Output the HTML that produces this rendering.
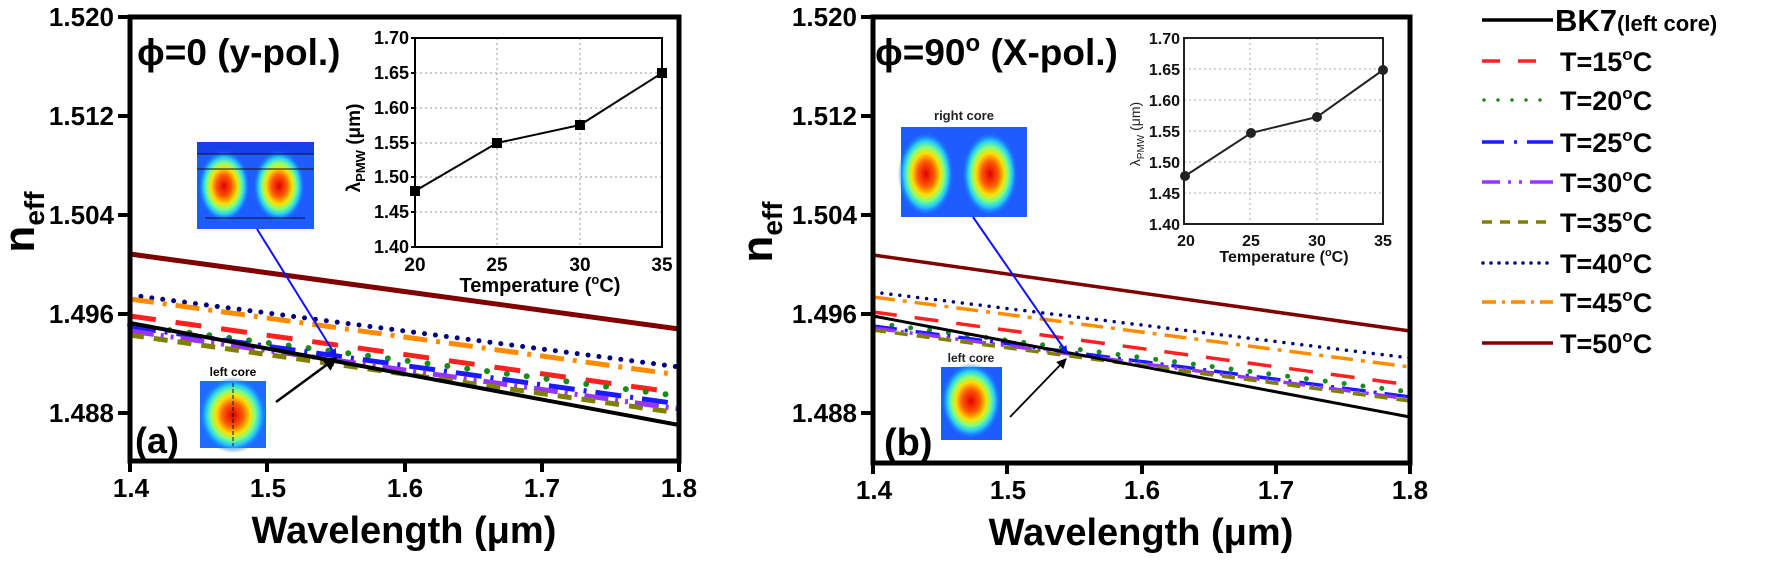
<!DOCTYPE html>
<html><head><meta charset="utf-8"><style>
html,body{margin:0;padding:0;background:#fff;}
svg{display:block;font-family:"Liberation Sans",Arial,sans-serif;font-weight:bold;}
</style></head><body>
<svg width="1770" height="562" viewBox="0 0 1770 562" xmlns="http://www.w3.org/2000/svg">
<defs>
<radialGradient id="hm" cx="50%" cy="50%" r="50%">
<stop offset="0" stop-color="#e00000"/><stop offset="0.3" stop-color="#ff5a00"/>
<stop offset="0.5" stop-color="#ffe000"/><stop offset="0.65" stop-color="#80ff80"/>
<stop offset="0.8" stop-color="#20c8ff"/><stop offset="1" stop-color="#1e5cff" stop-opacity="0"/>
</radialGradient>
<marker id="ab" markerWidth="8" markerHeight="8" refX="7" refY="4" orient="auto" markerUnits="userSpaceOnUse"><path d="M0,0 L8,4 L0,8 z" fill="#1010ff"/></marker>
<marker id="ak" markerWidth="14" markerHeight="14" refX="12" refY="7" orient="auto" markerUnits="userSpaceOnUse"><path d="M0,0 L14,7 L0,14 z" fill="#000"/></marker>
<marker id="ak2" markerWidth="10" markerHeight="10" refX="9" refY="5" orient="auto" markerUnits="userSpaceOnUse"><path d="M0,0 L10,5 L0,10 z" fill="#000"/></marker>
</defs>

<!-- ============ PANEL A ============ -->
<g fill="none" stroke-width="5">
<line x1="130" y1="254" x2="679" y2="329" stroke="#800000"/>
<line x1="130" y1="295" x2="679" y2="367" stroke="#000080" stroke-dasharray="0 11" stroke-linecap="round"/>
<line x1="130" y1="299" x2="679" y2="375" stroke="#ff8c00" stroke-dasharray="24 9 4 9"/>
<line x1="130" y1="316" x2="679" y2="393" stroke="#ff2020" stroke-dasharray="26 20"/>
<line x1="130" y1="325" x2="679" y2="396" stroke="#1a8a1a" stroke-width="6" stroke-dasharray="0 20" stroke-linecap="round"/>
<line x1="130" y1="327" x2="679" y2="404" stroke="#1a1aff" stroke-dasharray="26 9 3 9"/>
<line x1="130" y1="331" x2="679" y2="409" stroke="#9933ff" stroke-dasharray="24 7 3 7 3 7"/>
<line x1="130" y1="335" x2="679" y2="413" stroke="#808000" stroke-dasharray="14 10"/>
<line x1="130" y1="323" x2="679" y2="425" stroke="#000" stroke-width="4"/>
</g>
<rect x="130" y="17" width="549" height="444" fill="none" stroke="#000" stroke-width="5"/>
<g stroke="#000" stroke-width="4">
<line x1="118" y1="17" x2="130" y2="17"/><line x1="118" y1="116" x2="130" y2="116"/><line x1="118" y1="215" x2="130" y2="215"/><line x1="118" y1="314" x2="130" y2="314"/><line x1="118" y1="413" x2="130" y2="413"/>
<line x1="130" y1="461" x2="130" y2="472"/><line x1="267" y1="461" x2="267" y2="472"/><line x1="405" y1="461" x2="405" y2="472"/><line x1="542" y1="461" x2="542" y2="472"/><line x1="679" y1="461" x2="679" y2="472"/>
</g>
<g font-size="26" text-anchor="end">
<text x="114" y="26">1.520</text><text x="114" y="125">1.512</text><text x="114" y="224">1.504</text><text x="114" y="323">1.496</text><text x="114" y="422">1.488</text>
</g>
<g font-size="26" text-anchor="middle">
<text x="131" y="497">1.4</text><text x="268" y="497">1.5</text><text x="405" y="497">1.6</text><text x="542" y="497">1.7</text><text x="679" y="497">1.8</text>
</g>
<text x="404" y="543" font-size="38" text-anchor="middle">Wavelength (μm)</text>
<text transform="translate(34,222) rotate(-90)" font-size="44" text-anchor="middle">n<tspan font-size="28" dy="10">eff</tspan></text>
<text x="137" y="65" font-size="37">ϕ=0 (y-pol.)</text>
<text x="135" y="453" font-size="36">(a)</text>

<!-- inset a -->
<g stroke="#999" stroke-width="1" stroke-dasharray="2 3">
<line x1="497" y1="38" x2="497" y2="247"/><line x1="580" y1="38" x2="580" y2="247"/>
<line x1="415" y1="73" x2="662" y2="73"/><line x1="415" y1="108" x2="662" y2="108"/><line x1="415" y1="143" x2="662" y2="143"/><line x1="415" y1="177" x2="662" y2="177"/><line x1="415" y1="212" x2="662" y2="212"/>
</g>
<rect x="415" y="38" width="247" height="209" fill="none" stroke="#000" stroke-width="2"/>
<g stroke="#000" stroke-width="2">
<line x1="411" y1="38" x2="415" y2="38"/><line x1="411" y1="73" x2="415" y2="73"/><line x1="411" y1="108" x2="415" y2="108"/><line x1="411" y1="143" x2="415" y2="143"/><line x1="411" y1="177" x2="415" y2="177"/><line x1="411" y1="212" x2="415" y2="212"/><line x1="411" y1="247" x2="415" y2="247"/>
</g>
<g font-size="18" text-anchor="end">
<text x="409" y="44">1.70</text><text x="409" y="79">1.65</text><text x="409" y="114">1.60</text><text x="409" y="149">1.55</text><text x="409" y="183">1.50</text><text x="409" y="218">1.45</text><text x="409" y="253">1.40</text>
</g>
<g font-size="19" text-anchor="middle">
<text x="415" y="271">20</text><text x="497" y="271">25</text><text x="580" y="271">30</text><text x="662" y="271">35</text>
</g>
<text x="540" y="292" font-size="20" text-anchor="middle">Temperature (<tspan font-size="13" dy="-8">o</tspan><tspan dy="8">C)</tspan></text>
<text transform="translate(360,148) rotate(-90)" font-size="19" text-anchor="middle">λ<tspan font-size="13" dy="5">PMW</tspan><tspan dy="-5"> (μm)</tspan></text>
<polyline points="415,191 497,143 580,125 662,73" fill="none" stroke="#000" stroke-width="2"/>
<g fill="#000"><rect x="410" y="186" width="10" height="10"/><rect x="492" y="138" width="10" height="10"/><rect x="575" y="120" width="10" height="10"/><rect x="657" y="68" width="10" height="10"/></g>

<!-- mode images a -->
<rect x="197" y="142" width="117" height="87" fill="#1e5cff"/>
<rect x="197" y="142" width="117" height="12" fill="#1840e8"/>
<ellipse cx="224" cy="186" rx="26" ry="36" fill="url(#hm)"/>
<ellipse cx="279" cy="186" rx="26" ry="36" fill="url(#hm)"/>
<g stroke="#111" stroke-width="1"><line x1="197" y1="154" x2="314" y2="154"/><line x1="197" y1="169" x2="314" y2="169"/><line x1="205" y1="218" x2="305" y2="218"/></g>
<text x="233" y="376" font-size="12" text-anchor="middle">left core</text>
<rect x="200" y="381" width="66" height="67" fill="#1e6cff"/>
<ellipse cx="233" cy="415" rx="34" ry="38" fill="url(#hm)"/>
<line x1="233" y1="383" x2="233" y2="446" stroke="#111" stroke-width="1" stroke-dasharray="4 2"/>
<line x1="257" y1="229" x2="336" y2="356" stroke="#1010ff" stroke-width="2" marker-end="url(#ab)"/>
<line x1="276" y1="402" x2="336" y2="358" stroke="#000" stroke-width="2.5" marker-end="url(#ak)"/>

<!-- ============ PANEL B ============ -->
<g fill="none" stroke-width="3.5">
<line x1="873" y1="255" x2="1410" y2="331" stroke="#800000"/>
<line x1="873" y1="292" x2="1410" y2="358" stroke="#000080" stroke-dasharray="0 9" stroke-linecap="round"/>
<line x1="873" y1="297" x2="1410" y2="367" stroke="#ff8c00" stroke-dasharray="22 8 4 8"/>
<line x1="873" y1="312" x2="1410" y2="385" stroke="#ff2020" stroke-dasharray="24 18"/>
<line x1="873" y1="323" x2="1410" y2="392" stroke="#1a8a1a" stroke-width="5" stroke-dasharray="0 19" stroke-linecap="round"/>
<line x1="873" y1="326" x2="1410" y2="397" stroke="#1a1aff" stroke-dasharray="24 8 3 8"/>
<line x1="873" y1="328" x2="1410" y2="399" stroke="#9933ff" stroke-dasharray="22 6 3 6 3 6"/>
<line x1="873" y1="330" x2="1410" y2="401" stroke="#808000" stroke-dasharray="13 9"/>
<line x1="873" y1="316" x2="1410" y2="417" stroke="#000" stroke-width="3"/>
</g>
<rect x="873" y="17" width="537" height="446" fill="none" stroke="#000" stroke-width="5"/>
<g stroke="#000" stroke-width="4">
<line x1="861" y1="17" x2="873" y2="17"/><line x1="861" y1="116" x2="873" y2="116"/><line x1="861" y1="215" x2="873" y2="215"/><line x1="861" y1="314" x2="873" y2="314"/><line x1="861" y1="413" x2="873" y2="413"/>
<line x1="873" y1="463" x2="873" y2="474"/><line x1="1007" y1="463" x2="1007" y2="474"/><line x1="1142" y1="463" x2="1142" y2="474"/><line x1="1276" y1="463" x2="1276" y2="474"/><line x1="1410" y1="463" x2="1410" y2="474"/>
</g>
<g font-size="26" text-anchor="end">
<text x="857" y="26">1.520</text><text x="857" y="125">1.512</text><text x="857" y="224">1.504</text><text x="857" y="323">1.496</text><text x="857" y="422">1.488</text>
</g>
<g font-size="26" text-anchor="middle">
<text x="874" y="499">1.4</text><text x="1008" y="499">1.5</text><text x="1142" y="499">1.6</text><text x="1276" y="499">1.7</text><text x="1410" y="499">1.8</text>
</g>
<text x="1141" y="545" font-size="38" text-anchor="middle">Wavelength (μm)</text>
<text transform="translate(772,232) rotate(-90)" font-size="44" text-anchor="middle">n<tspan font-size="28" dy="10">eff</tspan></text>
<text x="875" y="65" font-size="37">ϕ=90<tspan font-size="24" dy="-14">o</tspan><tspan dy="14"> (X-pol.)</tspan></text>
<text x="884" y="455" font-size="38">(b)</text>

<!-- inset b -->
<g stroke="#aaa" stroke-width="1" stroke-dasharray="2 3">
<line x1="1250" y1="38" x2="1250" y2="224"/><line x1="1317" y1="38" x2="1317" y2="224"/>
<line x1="1184" y1="69" x2="1383" y2="69"/><line x1="1184" y1="100" x2="1383" y2="100"/><line x1="1184" y1="131" x2="1383" y2="131"/><line x1="1184" y1="162" x2="1383" y2="162"/><line x1="1184" y1="193" x2="1383" y2="193"/>
</g>
<rect x="1184" y="38" width="199" height="186" fill="none" stroke="#222" stroke-width="2"/>
<g font-size="16" text-anchor="end" fill="#111">
<text x="1180" y="44">1.70</text><text x="1180" y="75">1.65</text><text x="1180" y="106">1.60</text><text x="1180" y="137">1.55</text><text x="1180" y="168">1.50</text><text x="1180" y="199">1.45</text><text x="1180" y="230">1.40</text>
</g>
<g font-size="16" text-anchor="middle" fill="#111">
<text x="1186" y="246">20</text><text x="1251" y="246">25</text><text x="1317" y="246">30</text><text x="1383" y="246">35</text>
</g>
<text x="1284" y="262" font-size="16" text-anchor="middle" fill="#111">Temperature (<tspan font-size="11" dy="-6">o</tspan><tspan dy="6">C)</tspan></text>
<text transform="translate(1140,134) rotate(-90)" font-size="14" text-anchor="middle" fill="#222" style="font-weight:normal">λ<tspan font-size="10" dy="4">PMW</tspan><tspan dy="-4"> (μm)</tspan></text>
<polyline points="1185,176 1251,133 1317,117 1383,70" fill="none" stroke="#222" stroke-width="2"/>
<g fill="#222"><circle cx="1185" cy="176" r="5"/><circle cx="1251" cy="133" r="5"/><circle cx="1317" cy="117" r="5"/><circle cx="1383" cy="70" r="5"/></g>

<!-- mode images b -->
<text x="964" y="120" font-size="13" text-anchor="middle" fill="#222">right core</text>
<rect x="901" y="127" width="126" height="90" fill="#1e5cff"/>
<ellipse cx="926" cy="174" rx="28" ry="42" fill="url(#hm)"/>
<ellipse cx="990" cy="174" rx="28" ry="42" fill="url(#hm)"/>
<text x="971" y="362" font-size="12" text-anchor="middle" fill="#222">left core</text>
<rect x="941" y="367" width="61" height="73" fill="#1e5cff"/>
<ellipse cx="971" cy="401" rx="30" ry="38" fill="url(#hm)"/>
<line x1="973" y1="217" x2="1067" y2="353" stroke="#1010ff" stroke-width="2" marker-end="url(#ab)"/>
<line x1="1010" y1="417" x2="1066" y2="359" stroke="#000" stroke-width="1.8" marker-end="url(#ak2)"/>

<!-- ============ LEGEND ============ -->
<g fill="none" stroke-width="3.5">
<line x1="1482" y1="20" x2="1553" y2="20" stroke="#000"/>
<line x1="1482" y1="61" x2="1553" y2="61" stroke="#ff2020" stroke-dasharray="18 18"/>
<line x1="1484" y1="100" x2="1553" y2="100" stroke="#1a8a1a" stroke-dasharray="0 14" stroke-linecap="round"/>
<line x1="1482" y1="142" x2="1553" y2="142" stroke="#1a1aff" stroke-dasharray="22 10 3 10 30"/>
<line x1="1482" y1="182" x2="1553" y2="182" stroke="#9933ff" stroke-dasharray="18 8 3 8 3 8 30"/>
<line x1="1482" y1="222" x2="1553" y2="222" stroke="#808000" stroke-dasharray="10 8"/>
<line x1="1483" y1="263" x2="1553" y2="263" stroke="#000080" stroke-dasharray="0 8" stroke-linecap="round"/>
<line x1="1482" y1="302" x2="1553" y2="302" stroke="#ff8c00" stroke-dasharray="14 6 3 6"/>
<line x1="1482" y1="343" x2="1553" y2="343" stroke="#800000"/>
</g>
<text x="1555" y="31" font-size="31">BK7<tspan font-size="22">(left core)</tspan></text>
<g font-size="27">
<text x="1560" y="71">T=15<tspan font-size="17" dy="-11">o</tspan><tspan dy="11">C</tspan></text>
<text x="1560" y="110">T=20<tspan font-size="17" dy="-11">o</tspan><tspan dy="11">C</tspan></text>
<text x="1560" y="152">T=25<tspan font-size="17" dy="-11">o</tspan><tspan dy="11">C</tspan></text>
<text x="1560" y="192">T=30<tspan font-size="17" dy="-11">o</tspan><tspan dy="11">C</tspan></text>
<text x="1560" y="232">T=35<tspan font-size="17" dy="-11">o</tspan><tspan dy="11">C</tspan></text>
<text x="1560" y="273">T=40<tspan font-size="17" dy="-11">o</tspan><tspan dy="11">C</tspan></text>
<text x="1560" y="312">T=45<tspan font-size="17" dy="-11">o</tspan><tspan dy="11">C</tspan></text>
<text x="1560" y="353">T=50<tspan font-size="17" dy="-11">o</tspan><tspan dy="11">C</tspan></text>
</g>
</svg>
</body></html>
